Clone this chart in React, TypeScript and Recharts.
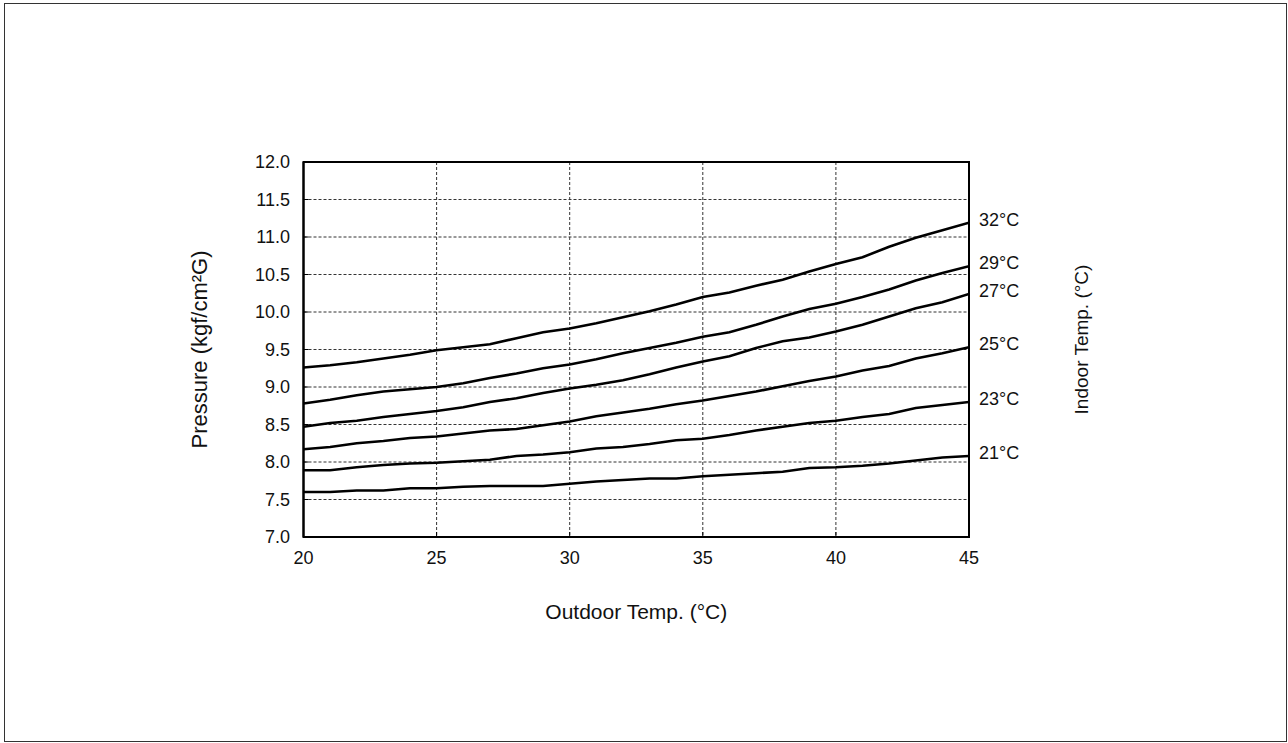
import React from 'react';
import { LineChart, Line, XAxis, YAxis, CartesianGrid, ReferenceArea } from 'recharts';

const outdoorTemps = [20, 21, 22, 23, 24, 25, 26, 27, 28, 29, 30, 31, 32, 33, 34, 35, 36, 37, 38, 39, 40, 41, 42, 43, 44, 45];
const xTicks = [20, 25, 30, 35, 40, 45];
const yTicks = [7, 7.5, 8, 8.5, 9, 9.5, 10, 10.5, 11, 11.5, 12];

const indoor32 = [9.26, 9.29, 9.33, 9.38, 9.43, 9.49, 9.53, 9.57, 9.65, 9.73, 9.78, 9.85, 9.93, 10.01, 10.10, 10.20, 10.26, 10.35, 10.43, 10.54, 10.64, 10.73, 10.87, 10.99, 11.09, 11.19];
const indoor29 = [8.78, 8.83, 8.89, 8.94, 8.97, 9.00, 9.05, 9.12, 9.18, 9.25, 9.30, 9.37, 9.45, 9.52, 9.59, 9.67, 9.73, 9.83, 9.94, 10.04, 10.11, 10.20, 10.30, 10.42, 10.52, 10.61];
const indoor27 = [8.47, 8.52, 8.55, 8.60, 8.64, 8.68, 8.73, 8.80, 8.85, 8.92, 8.98, 9.03, 9.09, 9.17, 9.26, 9.34, 9.41, 9.52, 9.61, 9.66, 9.74, 9.83, 9.94, 10.05, 10.13, 10.24];
const indoor25 = [8.17, 8.20, 8.25, 8.28, 8.32, 8.34, 8.38, 8.42, 8.44, 8.49, 8.54, 8.61, 8.66, 8.71, 8.77, 8.82, 8.88, 8.94, 9.01, 9.08, 9.14, 9.22, 9.28, 9.38, 9.45, 9.53];
const indoor23 = [7.89, 7.89, 7.93, 7.96, 7.98, 7.99, 8.01, 8.03, 8.08, 8.10, 8.13, 8.18, 8.20, 8.24, 8.29, 8.31, 8.36, 8.42, 8.47, 8.52, 8.55, 8.60, 8.64, 8.72, 8.76, 8.80];
const indoor21 = [7.60, 7.60, 7.62, 7.62, 7.65, 7.65, 7.67, 7.68, 7.68, 7.68, 7.71, 7.74, 7.76, 7.78, 7.78, 7.81, 7.83, 7.85, 7.87, 7.92, 7.93, 7.95, 7.98, 8.02, 8.06, 8.08];

const seriesKeys = ['t32', 't29', 't27', 't25', 't23', 't21'];
const seriesLabels = ['32°C', '29°C', '27°C', '25°C', '23°C', '21°C'];
const seriesValues = [indoor32, indoor29, indoor27, indoor25, indoor23, indoor21];

const data = outdoorTemps.map((x, i) => {
  const row: Record<string, number> = { x };
  seriesKeys.forEach((k, j) => {
    row[k] = seriesValues[j][i];
  });
  return row;
});

const FONT = '"Liberation Sans", Arial, Helvetica, sans-serif';
const lastIndex = outdoorTemps.length - 1;

const makeEndLabel = (text: string) => (props: any) => {
  if (props.index !== lastIndex) return null;
  return (
    <text x={props.x + 10} y={props.y - 3.5} dy="0.35em" fontSize={18} fontFamily={FONT} fill="#111" textAnchor="start">
      {text}
    </text>
  );
};

const xTitle = (props: any) => {
  const vb = props.viewBox || { x: 303.5, y: 537, width: 665.5, height: 30 };
  return (
    <text x={vb.x + vb.width / 2} y={vb.y + 75} dy="0.35em" textAnchor="middle" fontSize={21} fontFamily={FONT} fill="#111">
      Outdoor Temp. (°C)
    </text>
  );
};

const yTitle = (props: any) => {
  const vb = props.viewBox || { x: 243.5, y: 162, width: 60, height: 375 };
  const cx = vb.x + vb.width - 104;
  const cy = vb.y + vb.height / 2;
  return (
    <text x={cx} y={cy} dy="0.35em" textAnchor="middle" fontSize={22} fontFamily={FONT} fill="#111" transform={`rotate(-90 ${cx} ${cy})`}>
      Pressure (kgf/cm²G)
    </text>
  );
};

const rightTitle = (props: any) => {
  const vb = props.viewBox || { x: 969, y: 162, width: 60, height: 375 };
  const cx = vb.x + 112;
  const cy = vb.y + vb.height / 2 - 10;
  return (
    <text x={cx} y={cy} dy="0.35em" textAnchor="middle" fontSize={19} fontFamily={FONT} fill="#111" transform={`rotate(-90 ${cx} ${cy})`}>
      Indoor Temp. (°C)
    </text>
  );
};

export default function App() {
  return (
    <div style={{ position: 'absolute', left: 0, top: 0, width: 1288, height: 743, background: '#fff', overflow: 'hidden' }}>
      <div style={{ position: 'absolute', left: 4, top: 3, width: 1281, height: 737, border: '1.5px solid #333' }} />
      <div style={{ position: 'absolute', left: 0, top: 0 }}>
        <LineChart width={1288} height={743} data={data} margin={{ top: 162, right: 259, bottom: 176, left: 243.5 }}>
          <CartesianGrid yAxisId="left" stroke="#333" strokeWidth={1} strokeDasharray="3 2" />
          <XAxis
            dataKey="x"
            type="number"
            domain={[20, 45]}
            ticks={xTicks}
            allowDataOverflow
            height={30}
            tickSize={-5}
            tickMargin={19}
            axisLine={{ stroke: '#000', strokeWidth: 2 }}
            tickLine={{ stroke: '#000', strokeWidth: 1 }}
            tick={{ fontSize: 18, fontFamily: FONT, fill: '#111' }}
            label={{ content: xTitle }}
          />
          <YAxis
            yAxisId="left"
            type="number"
            domain={[7, 12]}
            ticks={yTicks}
            allowDataOverflow
            width={60}
            tickSize={-5}
            tickMargin={18.5}
            tickFormatter={(v: number) => v.toFixed(1)}
            axisLine={{ stroke: '#000', strokeWidth: 2 }}
            tickLine={{ stroke: '#000', strokeWidth: 1 }}
            tick={{ fontSize: 18, fontFamily: FONT, fill: '#111' }}
            label={{ content: yTitle }}
          />
          <YAxis
            yAxisId="right"
            orientation="right"
            type="number"
            domain={[7, 12]}
            ticks={yTicks}
            width={60}
            tick={false}
            tickLine={false}
            axisLine={{ stroke: '#000', strokeWidth: 2 }}
            label={{ content: rightTitle }}
          />
          <ReferenceArea yAxisId="left" x1={20} x2={45} y1={7} y2={12} fill="none" fillOpacity={0} stroke="#000" strokeWidth={2} />
          {seriesKeys.map((k, j) => (
            <Line
              key={k}
              yAxisId="left"
              type="linear"
              dataKey={k}
              stroke="#000"
              strokeWidth={2.6}
              dot={false}
              activeDot={false}
              isAnimationActive={false}
              label={makeEndLabel(seriesLabels[j])}
            />
          ))}
        </LineChart>
      </div>
    </div>
  );
}
